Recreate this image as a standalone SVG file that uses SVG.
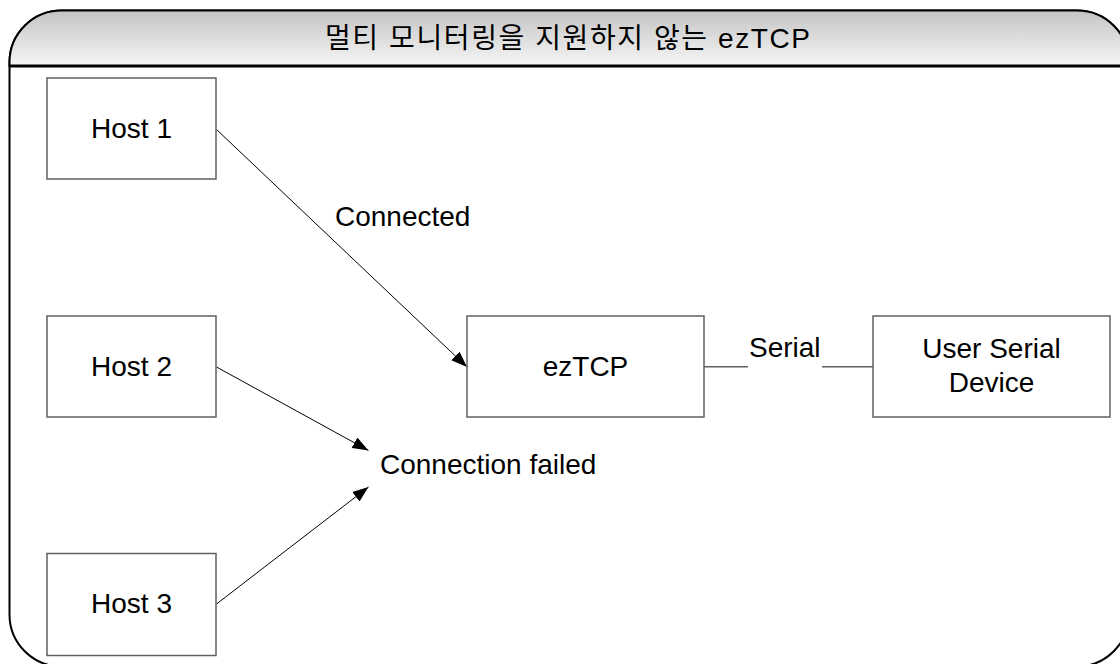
<svg xmlns="http://www.w3.org/2000/svg" width="1120" height="664" viewBox="0 0 1120 664">
<style>
.box{fill:#fff;stroke:#606060;stroke-width:1.5}
.t{font-family:"Liberation Sans",Arial,sans-serif;font-size:28px;fill:#000}
.c{text-anchor:middle}
.ln{stroke:#000;stroke-width:1;fill:none}
.sl{stroke:#606060;stroke-width:1.5;fill:none}
</style>
<defs>
<linearGradient id="tg" x1="0" y1="0" x2="0" y2="1">
<stop offset="0" stop-color="#c4c4c4"/>
<stop offset="1" stop-color="#f6f6f6"/>
</linearGradient>
<marker id="ah" viewBox="0 0 16 12" refX="16" refY="6" markerWidth="16" markerHeight="12" markerUnits="userSpaceOnUse" orient="auto">
<path d="M0,0 L16,6 L0,12 Z" fill="#000"/>
</marker>
</defs>
<g id="frame">
<rect x="9.5" y="10.5" width="1119.5" height="656" rx="52" ry="52" fill="#fff" stroke="#000" stroke-width="2"/>
<path d="M9.5,66 V62.5 A52,52 0 0 1 61.5,10.5 H1077 A52,52 0 0 1 1129,62.5 V66 Z" fill="url(#tg)" stroke="#000" stroke-width="2"/>
<line x1="9.5" y1="66" x2="1129" y2="66" stroke="#000" stroke-width="3"/>
<text class="t c" x="567.5" y="48" textLength="485" lengthAdjust="spacing" style="font-family:'Liberation Sans','Noto Sans CJK KR',sans-serif">멀티 모니터링을 지원하지 않는 ezTCP</text>
</g>
<g id="connectors">
<line class="ln" x1="216.5" y1="129.5" x2="467" y2="367" marker-end="url(#ah)"/>
<line class="ln" x1="216.5" y1="367" x2="368.5" y2="450.5" marker-end="url(#ah)"/>
<line class="ln" x1="216.5" y1="604" x2="368.5" y2="487" marker-end="url(#ah)"/>
<line class="sl" x1="704" y1="366.7" x2="748" y2="366.7"/>
<line class="sl" x1="822" y1="366.7" x2="873" y2="366.7"/>
<text class="t" x="335" y="226">Connected</text>
<text class="t" x="380" y="474">Connection failed</text>
<text class="t" x="749" y="357">Serial</text>
</g>
<g id="host1">
<rect class="box" x="47" y="78" width="169" height="101"/>
<text class="t c" x="131.5" y="138">Host 1</text>
</g>
<g id="host2">
<rect class="box" x="47" y="316" width="169" height="101"/>
<text class="t c" x="131.5" y="376">Host 2</text>
</g>
<g id="host3">
<rect class="box" x="47" y="553.5" width="169" height="102"/>
<text class="t c" x="131.5" y="613">Host 3</text>
</g>
<g id="eztcp">
<rect class="box" x="467" y="316" width="237" height="101"/>
<text class="t c" x="585.5" y="376">ezTCP</text>
</g>
<g id="device">
<rect class="box" x="873" y="316" width="237" height="101"/>
<text class="t c" x="991.5" y="358">User Serial</text>
<text class="t c" x="991.5" y="392">Device</text>
</g>
</svg>
